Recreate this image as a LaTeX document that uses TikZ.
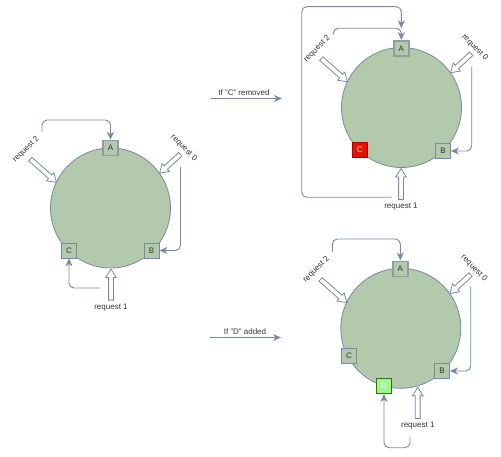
\documentclass[tikz,border=0pt]{standalone}
\usepackage{fontspec}
\setmainfont{Liberation Sans}
\usetikzlibrary{arrows.meta,shapes.arrows,calc}
\definecolor{edge}{HTML}{788AA3}
\definecolor{ring}{HTML}{B2C9AB}
\definecolor{txt}{HTML}{333333}
\definecolor{agray}{HTML}{8E9E9E}
\definecolor{cred}{HTML}{E51400}
\definecolor{credd}{HTML}{B20000}
\definecolor{dgreen}{HTML}{A0F590}
\definecolor{dgreend}{HTML}{2D7600}
\begin{document}
\begin{tikzpicture}[x=1bp,y=-1bp,
  conn/.style={draw=edge, line width=0.9bp, rounded corners=5bp, -{Stealth[length=8bp,width=7bp,inset=2.5bp]}},
  ringc/.style={circle, draw=edge, fill=ring, line width=0.8bp, minimum size=120bp, inner sep=0pt},
  srv/.style={rectangle, draw=edge, fill=ring, minimum size=15bp, inner sep=0pt, font=\fontsize{8bp}{9bp}\selectfont, text=txt, line width=0.8bp},
  srvA/.style={srv, draw=agray, line width=1.6bp},
  srvC/.style={srv, draw=credd, fill=cred, text=white},
  srvD/.style={srv, draw=dgreend, fill=dgreen, text=white, line width=1bp},
  hollow/.style={single arrow, draw=edge, fill=white, minimum height=#1, single arrow head extend=3bp, single arrow tip angle=65, inner sep=2bp, line width=0.8bp},
  lbl/.style={font=\fontsize{8bp}{9bp}\selectfont, text=txt, inner sep=0pt}
]
\useasboundingbox (0,0) rectangle (501,457);

% ---------- left diagram ----------
\node[ringc] (R1) at (110.5,208) {};
\node[srvA] (A1) at (110.5,148) {A};
\node[srv] (B1) at (151.5,250.5) {B};
\node[srv] (C1) at (69,250.5) {C};
\coordinate (p2s1) at (42,132);
\coordinate (p0s1) at (180.5,167);
\coordinate (p1s1) at (100,288);
\draw[conn] (p2s1) -- ++(0,-12) -| (A1.north);
\draw[conn] (p0s1) |- (B1.east);
\draw[conn] (p1s1) -| (C1.south);
\node[hollow=35bp, rotate=-41.5] (h2a) at (42,169.5) {};
\node[hollow=28bp, rotate=-137.5] (h0a) at (171.3,162.5) {};
\node[hollow=31bp, rotate=90] (h1a) at (111,286.5) {};
\node[lbl, rotate=45] (l2a) at (26,149.5) {request 2};
\node[lbl, rotate=-45] (l0a) at (183.8,148) {request 0};
\node[lbl] (l1a) at (111,307.5) {request 1};

% ---------- middle arrows ----------
\coordinate (m1s) at (211,98.5);
\coordinate (m1e) at (282,98.5);
\draw[conn] (m1s) -- (m1e);
\node[lbl] (t1) at (244,93) {If "C" removed};
\coordinate (m2s) at (210,337.5);
\coordinate (m2e) at (281,337.5);
\draw[conn] (m2s) -- (m2e);
\node[lbl] (t2) at (245,332) {If "D" added};

% ---------- top-right diagram ----------
\begin{scope}[shift={(291,-100.5)}]
\node[ringc] (R2) at (110.5,208) {};
\node[srvA] (A2) at (110.3,148.8) {A};
\node[srv] (B2) at (152,251.5) {B};
\node[srvC] (C2) at (68.7,250.5) {C};
\coordinate (p2s2) at (42.3,132.2);
\coordinate (m2a) at (110.3,128.8);
\coordinate (p0s2) at (180.7,167.2);
\coordinate (p1s2) at (100.7,297.8);
\draw[conn] (p2s2) -- ++(0,-3.4) -| (A2.north);
\draw[conn] (p1s2) -- (10.7,297.8) -- (10.7,107.2) -| (m2a);
\draw[conn] (p0s2) |- (B2.east);
\node[hollow=35bp, rotate=-41.5] (h2b) at (42,169.5) {};
\node[hollow=28bp, rotate=-137.5] (h0b) at (171.3,162.5) {};
\node[hollow=31bp, rotate=90] (h1b) at (110,286.5) {};
\node[lbl, rotate=45] (l2b) at (26,149.5) {request 2};
\node[lbl, rotate=-45] (l0b) at (183.8,148) {request 0};
\node[lbl] (l1b) at (110,307.5) {request 1};
\end{scope}

% ---------- bottom-right diagram ----------
\begin{scope}[shift={(290.3,120.3)}]
\node[ringc] (R3) at (110.5,208) {};
\node[srvA] (A3) at (110,148.5) {A};
\node[srv] (B3) at (151.7,250.7) {B};
\node[srv] (C3) at (58.7,235.7) {C};
\node[srvD] (D3) at (93.7,265.7) {D};
\coordinate (p2s3) at (42,131.4);
\coordinate (p0s3) at (180.4,165.7);
\coordinate (p1s3) at (119.7,316.4);
\draw[conn] (p2s3) -- ++(0,-12.7) -| (A3.north);
\draw[conn] (p0s3) |- (B3.east);
\draw[conn] (p1s3) -- (119.7,327.4) -| (D3.south);
\node[hollow=35bp, rotate=-41.5] (h2c) at (42,169.5) {};
\node[hollow=28bp, rotate=-137.5] (h0c) at (171.3,162.5) {};
\node[hollow=31bp, rotate=90] (h1c) at (127.4,284.5) {};
\node[lbl, rotate=45] (l2c) at (26,149.5) {request 2};
\node[lbl, rotate=-45] (l0c) at (183.8,148) {request 0};
\node[lbl] (l1c) at (127.5,305.5) {request 1};
\end{scope}
\end{tikzpicture}
\end{document}
